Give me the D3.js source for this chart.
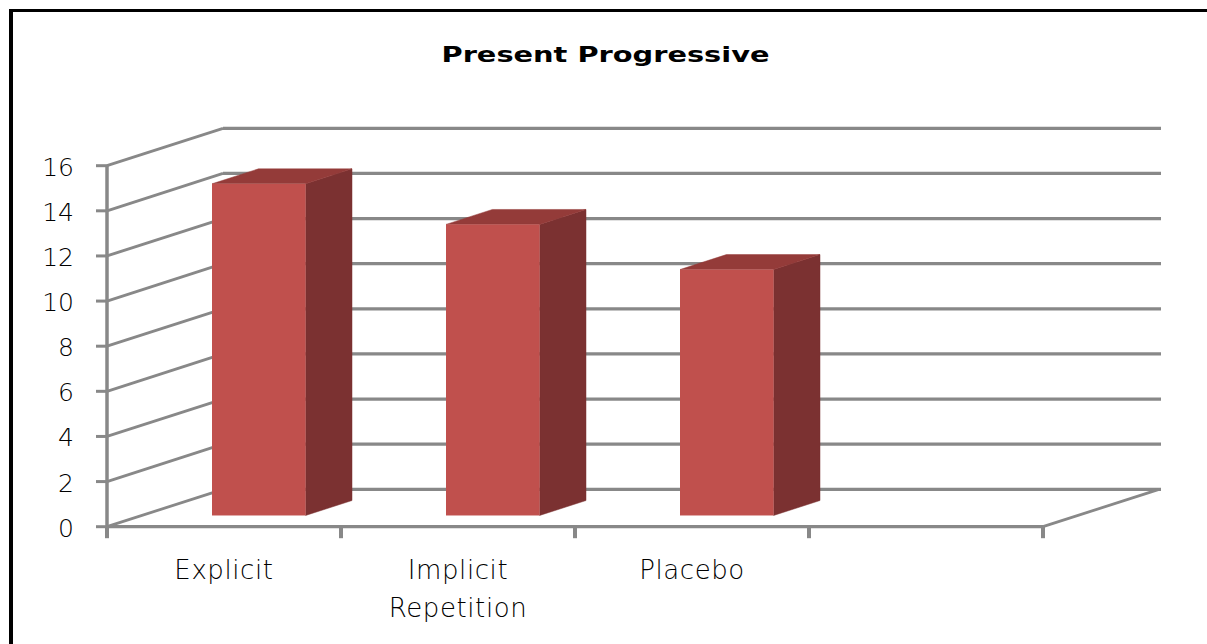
<!DOCTYPE html>
<html>
<head>
<meta charset="utf-8">
<script src="https://cdn.jsdelivr.net/npm/d3@7"></script>
<style>
  html, body { margin: 0; padding: 0; background: #fff; }
  svg { display: block; }
</style>
</head>
<body>
<svg id="chart" width="1207" height="644"></svg>
<script>
// ---- data ----
const title = "Present Progressive";
const categories = ["Explicit", "Implicit Repetition", "Placebo", ""];
const categoryLines = [["Explicit"], ["Implicit", "Repetition"], ["Placebo"], []];
const values = [14.7, 12.9, 10.9, null];
const yTicks = [0, 2, 4, 6, 8, 10, 12, 14, 16];

// ---- layout ----
const svg = d3.select("#chart");
const W = 1207, H = 644;
const frontLeft = 107, frontRight = 1043;
const y0 = 526.7, yTop = 165.7;
const depthDx = 116, depthDy = -37.4;   // oblique depth of the plot box
const z0 = 0.3, z1 = 0.7;               // bar depth position (fraction)
const gridColor = "#888888";
const labelFont = "DejaVu Sans";

const y = d3.scaleLinear().domain([0, 16]).range([y0, yTop]);
const x = d3.scaleBand().domain(categories).range([frontLeft, frontRight]).padding(0);
const barFrac = 0.4;

// border (top + left)
svg.append("line").attr("x1", 10).attr("x2", W).attr("y1", 10.5).attr("y2", 10.5)
  .attr("stroke", "#000").attr("stroke-width", 3);
svg.append("line").attr("x1", 11).attr("x2", 11).attr("y1", 9).attr("y2", H)
  .attr("stroke", "#000").attr("stroke-width", 4);

// title
svg.append("text")
  .attr("x", 605.5).attr("y", 62)
  .attr("text-anchor", "middle")
  .attr("font-family", "DejaVu Sans")
  .attr("font-weight", "bold")
  .attr("font-size", 20.5)
  .attr("textLength", 328)
  .attr("lengthAdjust", "spacingAndGlyphs")
  .attr("fill", "#000")
  .text(title);

// back wall gridlines
const g = svg.append("g");
g.selectAll("line.back").data(yTicks).enter().append("line")
  .attr("class", "back")
  .attr("x1", frontLeft + depthDx).attr("x2", frontRight + depthDx + 2)
  .attr("y1", d => y(d) + depthDy).attr("y2", d => y(d) + depthDy)
  .attr("stroke", gridColor).attr("stroke-width", 3.2);

// side wall gridlines (diagonals)
g.selectAll("line.side").data(yTicks).enter().append("line")
  .attr("class", "side")
  .attr("x1", frontLeft).attr("x2", frontLeft + depthDx)
  .attr("y1", d => y(d)).attr("y2", d => y(d) + depthDy)
  .attr("stroke", gridColor).attr("stroke-width", 2.8);

// floor right edge diagonal
g.append("line")
  .attr("x1", frontRight).attr("y1", y(0))
  .attr("x2", frontRight + depthDx).attr("y2", y(0) + depthDy)
  .attr("stroke", gridColor).attr("stroke-width", 2.8);

// front floor line (x axis)
g.append("line")
  .attr("x1", frontLeft).attr("x2", frontRight)
  .attr("y1", y(0)).attr("y2", y(0))
  .attr("stroke", gridColor).attr("stroke-width", 3.2);

// x ticks at band boundaries
const xBounds = categories.map(c => x(c)).concat([frontRight]);
g.selectAll("line.xtick").data(xBounds).enter().append("line")
  .attr("x1", d => d).attr("x2", d => d)
  .attr("y1", y(0)).attr("y2", y(0) + 11.5)
  .attr("stroke", gridColor).attr("stroke-width", 4);

// y axis line
g.append("line")
  .attr("x1", frontLeft).attr("x2", frontLeft)
  .attr("y1", y(16)).attr("y2", y(0))
  .attr("stroke", gridColor).attr("stroke-width", 3.5);

// y ticks
g.selectAll("line.ytick").data(yTicks).enter().append("line")
  .attr("x1", frontLeft - 11).attr("x2", frontLeft)
  .attr("y1", d => y(d)).attr("y2", d => y(d))
  .attr("stroke", gridColor).attr("stroke-width", 3);

// y labels
svg.selectAll("text.ylab").data(yTicks).enter().append("text")
  .attr("x", 74).attr("y", d => y(d) + 1.5)
  .attr("text-anchor", "end")
  .attr("dominant-baseline", "central")
  .attr("font-family", labelFont)
  .attr("font-weight", 200)
  .attr("font-size", 25)
  .attr("fill", "#000")
  .text(d => d);

// bars
const bars = categories.map((c, i) => ({ c, v: values[i] })).filter(d => d.v != null);
const bg = svg.append("g");
bars.forEach(d => {
  const xc = x(d.c) + x.bandwidth() / 2;
  const bw = x.bandwidth() * barFrac;
  const xl0 = xc - bw / 2 + z0 * depthDx, xr0 = xc + bw / 2 + z0 * depthDx;
  const yb0 = y(0) + z0 * depthDy, yt0 = y(d.v) + z0 * depthDy;
  const ddx = (z1 - z0) * depthDx, ddy = (z1 - z0) * depthDy;
  // side
  bg.append("polygon")
    .attr("points", [[xr0, yb0], [xr0, yt0], [xr0 + ddx, yt0 + ddy], [xr0 + ddx, yb0 + ddy]].join(" "))
    .attr("fill", "#7b3131").attr("stroke", "#7b3131").attr("stroke-width", 0.5);
  // top
  bg.append("polygon")
    .attr("points", [[xl0, yt0], [xr0, yt0], [xr0 + ddx, yt0 + ddy], [xl0 + ddx, yt0 + ddy]].join(" "))
    .attr("fill", "#943b39").attr("stroke", "#943b39").attr("stroke-width", 0.5);
  // front
  bg.append("rect")
    .attr("x", xl0).attr("y", yt0)
    .attr("width", xr0 - xl0).attr("height", yb0 - yt0)
    .attr("fill", "#c0504d");
});

// x labels
categoryLines.forEach((lines, i) => {
  const xc = x(categories[i]) + x.bandwidth() / 2;
  lines.forEach((ln, j) => {
    svg.append("text")
      .attr("x", xc).attr("y", 579 + j * 38)
      .attr("text-anchor", "middle")
      .attr("font-family", labelFont)
      .attr("font-weight", 200)
      .attr("font-size", 26)
      .attr("letter-spacing", 0.6)
      .attr("fill", "#000")
      .text(ln);
  });
});
</script>
</body>
</html>
